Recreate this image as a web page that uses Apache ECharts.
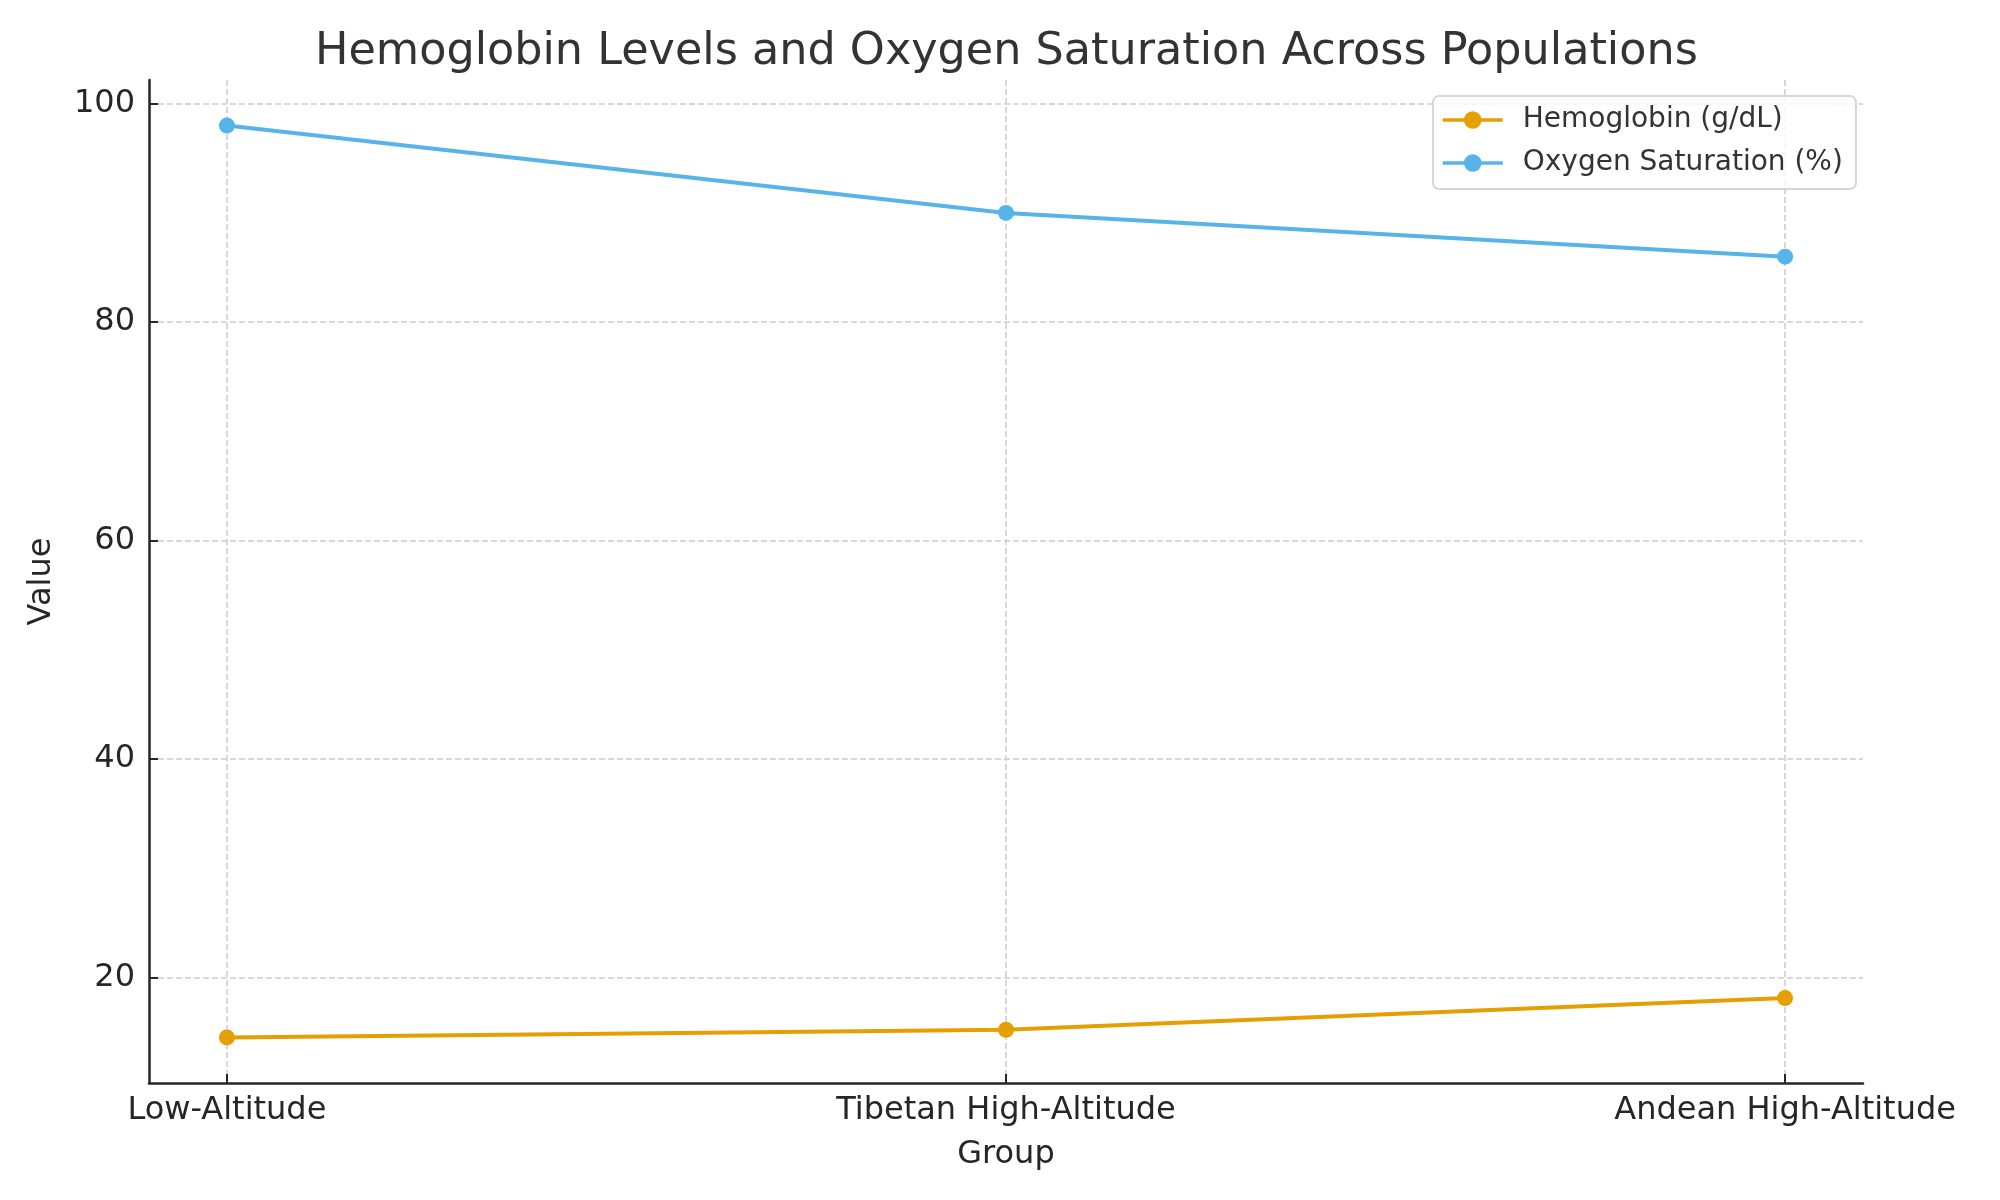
<!DOCTYPE html>
<html lang="en">

<head>
  <meta charset="UTF-8">
  <title>Hemoglobin Levels and Oxygen Saturation</title>
  <style>
    html, body { margin: 0; padding: 0; background: #fff; }
  </style>
</head>

<body>
  <div class="main" style="width: 2000px;height:1200px;"></div>

  <script src="https://cdn.jsdelivr.net/npm/echarts@6/dist/echarts.min.js"></script>
  <script>
    // data
    const groups = ['Low-Altitude', 'Tibetan High-Altitude', 'Andean High-Altitude']
    const hemoglobin = [14.5, 15.2, 18.1]
    const oxygenSat = [98, 90, 86]
    const yTicks = [20, 40, 60, 80, 100]

    const font = 'DejaVu Sans'
    const gridColor = '#cccccc'
    const axisColor = '#262626'

    // matplotlib style 5% margins
    const all = hemoglobin.concat(oxygenSat)
    const lo = Math.min(...all), hi = Math.max(...all)
    const pad = (hi - lo) * 0.05

    const toPairs = arr => arr.map((v, i) => [i, v])

    var myChart = echarts.init(document.querySelector('.main'))

    var option = {
      animation: false,
      backgroundColor: '#fff',
      title: {
        text: 'Hemoglobin Levels and Oxygen Saturation Across Populations',
        left: 315,
        top: 30,
        padding: 0,
        textStyle: { fontFamily: font, fontSize: 44.5, fontWeight: 'normal', color: '#333333' }
      },
      legend: {
        orient: 'vertical',
        left: 1433,
        top: 96,
        padding: [9, 13, 11, 8],
        itemWidth: 60,
        itemHeight: 22,
        itemGap: 13,
        backgroundColor: 'rgba(255,255,255,0.8)',
        borderColor: '#d6d6d6',
        borderWidth: 2,
        borderRadius: 6,
        lineStyle: { width: 3.5 },
        textStyle: { fontFamily: font, fontSize: 28, color: '#333333', lineHeight: 30, padding: [0, 0, 0, 15] },
        data: ['Hemoglobin (g/dL)', 'Oxygen Saturation (%)']
      },
      grid: { left: 149, right: 137, top: 80, bottom: 117 },
      xAxis: {
        type: 'value',
        min: -0.1,
        max: 2.1,
        name: 'Group',
        nameLocation: 'middle',
        nameGap: 56,
        nameTextStyle: { fontFamily: font, fontSize: 32, color: axisColor },
        axisLine: { show: true, onZero: false, lineStyle: { color: axisColor, width: 2.5 } },
        axisTick: { show: true, inside: true, length: 9, customValues: [0, 1, 2], lineStyle: { color: axisColor, width: 2 } },
        axisLabel: {
          customValues: [0, 1, 2],
          margin: 12,
          fontFamily: font, fontSize: 32, color: axisColor,
          formatter: v => groups[Math.round(v)]
        },
        splitLine: { show: true, lineStyle: { color: gridColor, width: 1.5, type: [6, 3] } }
      },
      yAxis: {
        type: 'value',
        min: lo - pad,
        max: hi + pad,
        name: 'Value',
        nameLocation: 'middle',
        nameRotate: 90,
        nameGap: 91,
        nameTextStyle: { fontFamily: font, fontSize: 32, color: axisColor },
        axisLine: { show: true, onZero: false, lineStyle: { color: axisColor, width: 2.5 } },
        axisTick: { show: true, inside: true, length: 9, customValues: yTicks, lineStyle: { color: axisColor, width: 2 } },
        axisLabel: { customValues: yTicks, margin: 14, fontFamily: font, fontSize: 32, color: axisColor },
        splitLine: { show: true, lineStyle: { color: gridColor, width: 1.5, type: [6, 3] } }
      },
      series: [
        {
          name: 'Hemoglobin (g/dL)',
          type: 'line',
          data: toPairs(hemoglobin),
          symbol: 'circle',
          symbolSize: 16,
          lineStyle: { width: 4, color: '#E69F00' },
          itemStyle: { color: '#E69F00' }
        },
        {
          name: 'Oxygen Saturation (%)',
          type: 'line',
          data: toPairs(oxygenSat),
          symbol: 'circle',
          symbolSize: 16,
          lineStyle: { width: 4, color: '#56B4E9' },
          itemStyle: { color: '#56B4E9' }
        }
      ]
    }

    myChart.setOption(option)
  </script>
</body>

</html>
